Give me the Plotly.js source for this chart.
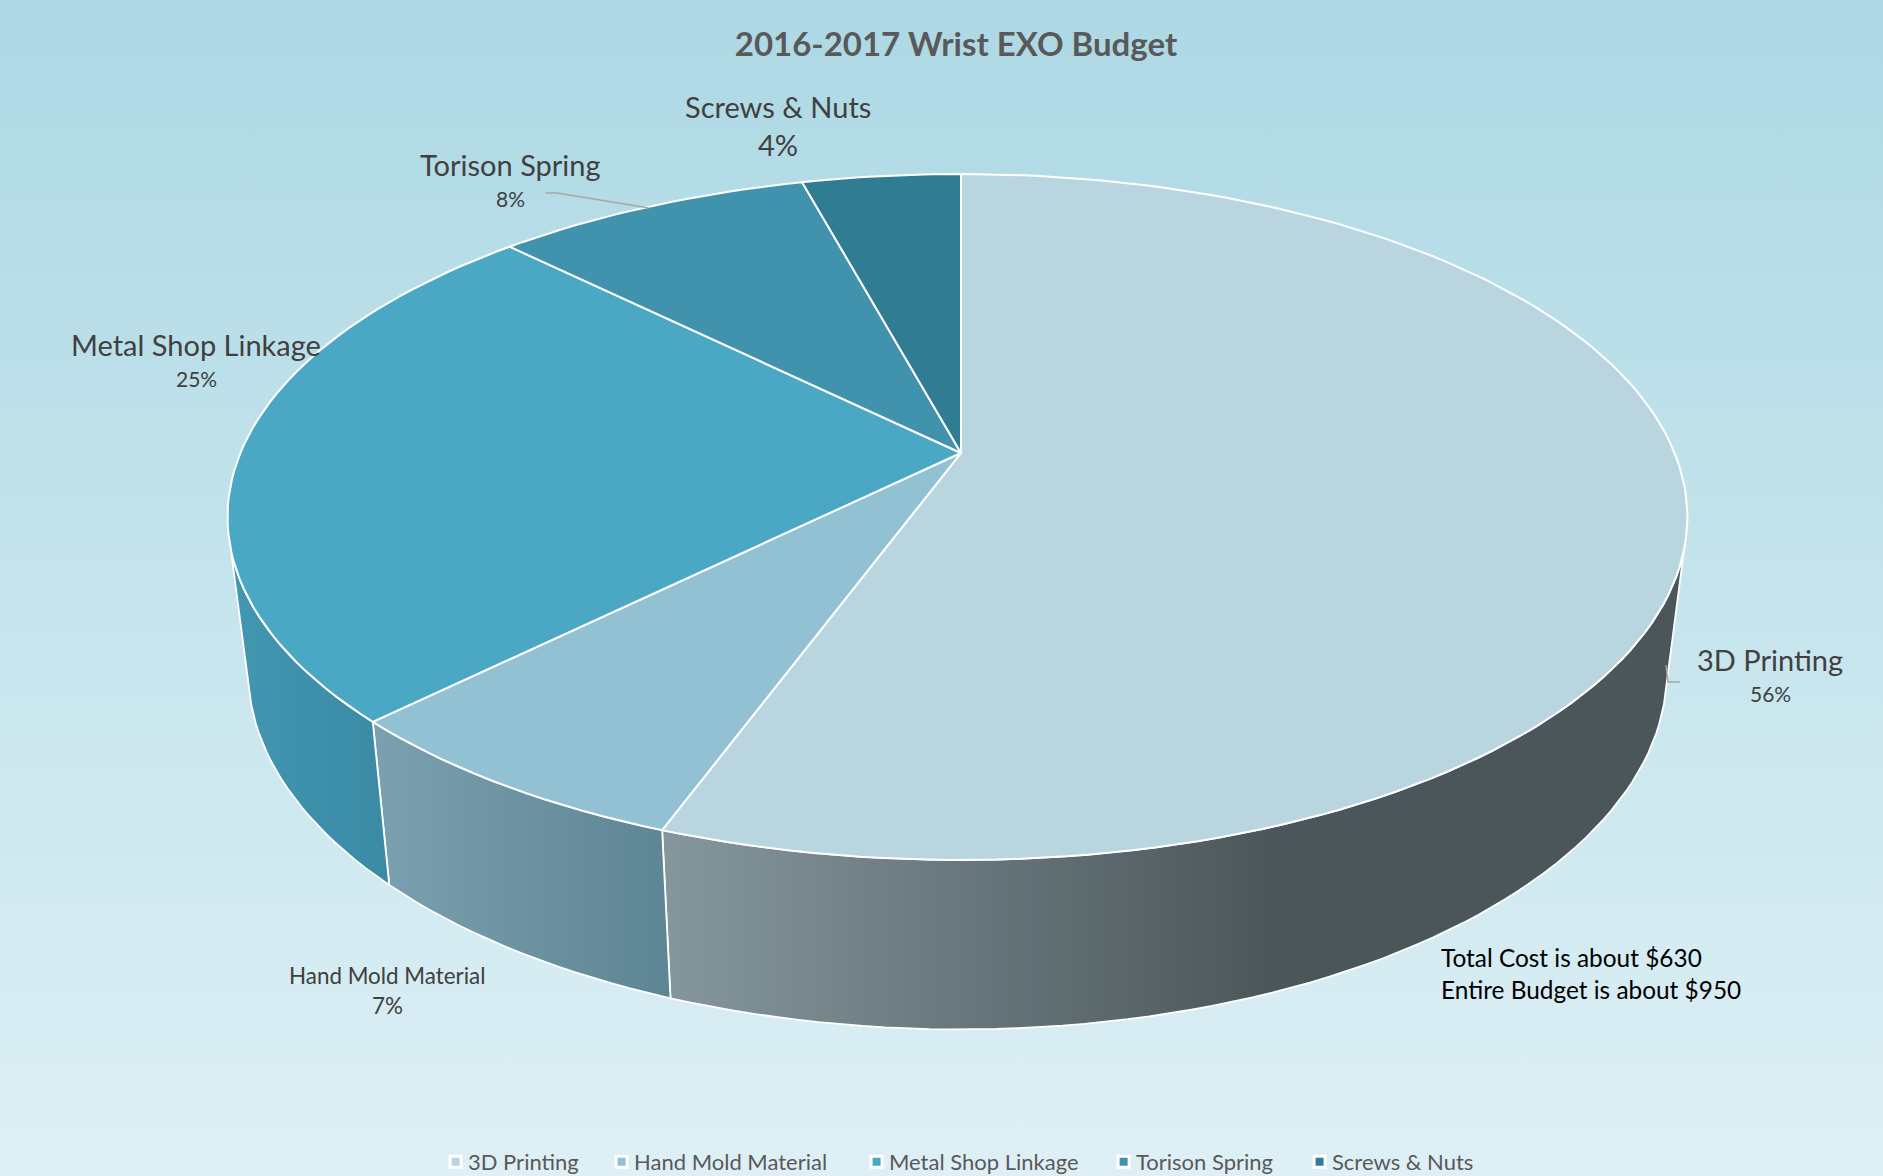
<!DOCTYPE html>
<html>
<head>
<meta charset="utf-8">
<script src="https://cdn.plot.ly/plotly-3.0.1.min.js"></script>
<style>html,body{margin:0;padding:0;background:#fff}#chart{width:1883px;height:1176px}</style>
</head>
<body>
<div id="chart"></div>
<script>
// ---- data ----
const categories = ["3D Printing", "Hand Mold Material", "Metal Shop Linkage", "Torison Spring", "Screws & Nuts"];
const costs = [350, 44, 157, 52.6, 26.4];
// ---- styles ----
const topColors = ["#B9D5E0", "#92C1D3", "#4AA8C4", "#4193AD", "#307C92"];
const sideColors = [
  [[0, "#85979D"], [0.6, "#4B565A"], [1, "#4B565A"]],
  [[0, "#7BA1B0"], [1, "#5E8594"]],
  [[0, "#4397B1"], [1, "#3A8AA4"]]
];
const chartTitle = "2016-2017 Wrist EXO Budget";
const noteLines = ["Total Cost is about $630", "Entire Budget is about $950"];
const bgStops = [[0, "#ACD8E4"], [1, "#DEF0F5"]];
const legendTextLeft = [468, 634, 889, 1136, 1332];

// ---- projection of the pie disc onto the page ----
const W = 1883, H = 1176;
const persp = 0.1866;
const topRim = {x0: 961, y0: 453, aL: 720.6, aR: 713.6, b: 331};
const botRim = {x0: 961, y0: 604, aL: 700.4, aR: 693.6, b: 346};
function project(rim, deg) {
  const t = deg * Math.PI / 180, u = Math.sin(t), v = -Math.cos(t), w = 1 - persp * v;
  return [rim.x0 + (u < 0 ? rim.aL : rim.aR) * u / w, rim.y0 + rim.b * v / w];
}
function arc(rim, a, b) {
  const n = Math.max(2, Math.ceil(Math.abs(b - a) / 1.5)), pts = [];
  for (let i = 0; i <= n; i++) pts.push(project(rim, a + (b - a) * i / n));
  return pts;
}
const total = costs.reduce((s, c) => s + c, 0);
let run = 0;
const edges = costs.map(c => { const a = run / total * 360; run += c; return [a, run / total * 360]; });
const silhouette = [106, 254];

const traces = [];
// page background
traces.push({x: [0, W, W, 0, 0], y: [0, 0, H, H, 0], mode: "lines", fill: "toself", line: {width: 0},
  fillgradient: {type: "vertical", colorscale: bgStops, start: 0, stop: H}, hoverinfo: "skip", showlegend: false});
// sides of the disc
edges.forEach((e, i) => {
  const a = Math.max(e[0], silhouette[0]), b = Math.min(e[1], silhouette[1]);
  if (a >= b) return;
  const pts = arc(topRim, a, b).concat(arc(botRim, b, a));
  pts.push(pts[0]);
  const xs = pts.map(p => p[0]);
  traces.push({x: xs, y: pts.map(p => p[1]), mode: "lines", fill: "toself", line: {color: "#FFFFFF", width: 1.8},
    fillgradient: {type: "horizontal", colorscale: sideColors[i], start: Math.min(...xs), stop: Math.max(...xs)},
    hoverinfo: "skip", showlegend: false});
});
// top faces
edges.forEach((e, i) => {
  const pts = [[topRim.x0, topRim.y0]].concat(arc(topRim, e[0], e[1]));
  pts.push(pts[0]);
  traces.push({x: pts.map(p => p[0]), y: pts.map(p => p[1]), mode: "lines", fill: "toself",
    fillcolor: topColors[i], line: {color: "#FFFFFF", width: 2}, name: categories[i],
    text: categories[i] + ": $" + costs[i], hoverinfo: "text", showlegend: false});
});
// leader lines
const leaderColor = "#A6A6A6";
traces.push({x: [545.6, 557, 649], y: [193, 193, 208], mode: "lines", line: {color: leaderColor, width: 1.4}, hoverinfo: "skip", showlegend: false});
traces.push({x: [1666, 1668, 1680], y: [665, 682, 682], mode: "lines", line: {color: leaderColor, width: 1.4}, hoverinfo: "skip", showlegend: false});
// legend entries
categories.forEach((c, i) => traces.push({x: [null], y: [null], mode: "markers", name: c,
  marker: {symbol: "square", size: 11, color: topColors[i], line: {color: "#FFFFFF", width: 3}}, hoverinfo: "skip"}));

const pct = costs.map(c => Math.round(c / total * 100) + "%");
const F = "Lato, Carlito, sans-serif";
function label(text, x, y, size) {
  return {text, x, y, xref: "x", yref: "y", showarrow: false, xanchor: "center", yanchor: "middle",
    font: {family: F, size, color: "#404040"}};
}
const annotations = [
  label(categories[4], 778, 106, 29), label(pct[4], 778, 144.5, 29),
  label(categories[3], 510, 164.5, 29), label(pct[3], 510, 198, 21),
  label(categories[2], 196, 344, 29), label(pct[2], 196, 378, 21),
  label(categories[0], 1770, 659, 29), label(pct[0], 1770, 693, 21),
  label(categories[1], 387, 975, 22.4), label(pct[1], 387, 1005, 22.4),
  {text: noteLines.join("<br>"), x: 1438.6, y: 973, xref: "x", yref: "y", showarrow: false, xanchor: "left", yanchor: "middle", align: "left",
   font: {family: F, size: 24.4, color: "#000000"}}
];

const layout = {
  width: W, height: H, margin: {l: 0, r: 0, t: 0, b: 0, autoexpand: false}, paper_bgcolor: "#DEF0F5", plot_bgcolor: "rgba(0,0,0,0)",
  title: {text: "<b>" + chartTitle + "</b>", x: 956 / W, xanchor: "center", y: 1 - 44 / H, yanchor: "middle",
    font: {family: F, size: 33, color: "#595959"}},
  xaxis: {range: [0, W], visible: false, fixedrange: true},
  yaxis: {range: [H, 0], visible: false, fixedrange: true},
  showlegend: true,
  legend: {orientation: "h", x: 441 / W, xanchor: "left", y: 1 - 1162 / H, yanchor: "middle", bgcolor: "rgba(0,0,0,0)",
    font: {family: F, size: 22, color: "#595959"}, itemclick: false, itemdoubleclick: false},
  annotations
};
Plotly.newPlot("chart", traces, layout, {displayModeBar: false, staticPlot: false}).then(() => {
  const box = document.querySelector(".legend .scrollbox");
  if (box) box.removeAttribute("clip-path");
  document.querySelectorAll(".legend .legendpoints").forEach(el => el.setAttribute("transform", "translate(7.6,0)"));
  document.querySelectorAll(".legend .traces").forEach((el, i) => {
    const left = el.querySelector(".legendtext").getBoundingClientRect().left;
    const m = /translate\(\s*([-\d.]+)[ ,]+([-\d.]+)/.exec(el.getAttribute("transform"));
    if (m) el.setAttribute("transform", "translate(" + (parseFloat(m[1]) + legendTextLeft[i] - left) + "," + m[2] + ")");
  });
});
</script>
</body>
</html>
